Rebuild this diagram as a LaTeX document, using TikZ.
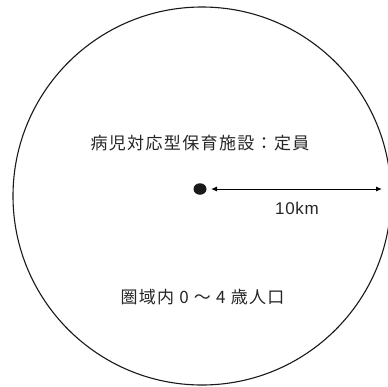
\documentclass[tikz,border=0pt]{standalone}
\usepackage{fontspec}
\newfontfamily\jpfont[LetterSpace=8]{Noto Sans CJK JP}
\newfontfamily\latinfont[LetterSpace=4]{Liberation Sans}
\usetikzlibrary{arrows.meta,shapes.geometric}
\begin{document}
\begin{tikzpicture}[x=1pt,y=-1pt,
  lbl/.style={font=\jpfont\fontsize{17}{20}\selectfont, inner sep=0pt, text=black!85},
  dist/.style={line width=1pt, {Latex[length=6pt,width=5pt]}-{Latex[length=6pt,width=5pt]}}]
\useasboundingbox (0,0) rectangle (388,386);
\clip (0,0) rectangle (388,386);
\fill[white] (0,0) rectangle (388,386);
\node[draw=black!90, line width=1.1pt, circle, minimum size=378pt, inner sep=0pt] (area) at (202,196) {};
\node[fill=black!90, ellipse, minimum width=13pt, minimum height=11.5pt, inner sep=0pt] (dot) at (200,189) {};
\coordinate (a) at (211,189);
\coordinate (b) at (382,189);
\draw[dist] (a) -- (b);
\node[lbl] (t1) at (200,143) {病児対応型保育施設：定員};
\node[lbl] (t2) at (202.5,297) {圏域内 0 ～ 4 歳人口};
\node[font=\latinfont\fontsize{17}{20}\selectfont, inner sep=0pt, text=black!85] (km) at (297,208) {10km};
\end{tikzpicture}
\end{document}
